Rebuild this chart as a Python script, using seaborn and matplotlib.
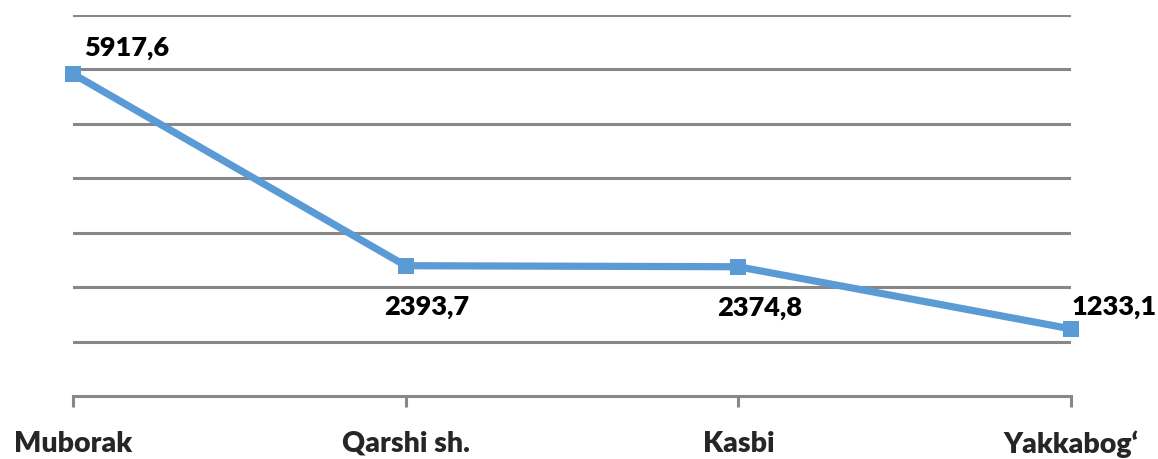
import pandas as pd
import numpy as np
from matplotlib import pyplot as plt
import seaborn as sns

districts = ["Muborak", "Qarshi sh.", "Kasbi", "Yakkabog‘"]
values = [5917.6, 2393.7, 2374.8, 1233.1]
value_labels = ["5917,6", "2393,7", "2374,8", "1233,1"]
# label offsets (points) relative to each marker
label_offsets = [(39, 19), (15, -30), (15, -30), (31, 16)]

sns.set_style("white")
plt.rcParams['font.family'] = ['Lato', 'DejaVu Sans']

df = pd.DataFrame({"district": districts, "value": values})

fig = plt.figure(figsize=(11.58, 4.59), dpi=100)
ax = fig.add_axes([73/1158, 1 - 396/459, (1071 - 73)/1158, (396 - 15)/459])

grid_col = "#878787"
for yv in range(1000, 8000, 1000):
    ax.axhline(yv, color=grid_col, lw=2.2, zorder=1)

sns.lineplot(data=df, x="district", y="value", ax=ax, color="#5B9BD5",
             lw=5.2, marker="s", markersize=11.5, markeredgewidth=0,
             sort=False, zorder=3, clip_on=False)

for i, (v, lab) in enumerate(zip(values, value_labels)):
    ax.annotate(lab, (i, v), xytext=label_offsets[i], textcoords="offset points",
                ha="center", va="center", fontsize=19.5, fontweight="heavy",
                color="black", annotation_clip=False)

ax.set_xlim(0, 3)
ax.set_ylim(0, 7000)
ax.set_yticks([])
ax.set_xlabel("")
ax.set_ylabel("")
for s in ["top", "right", "left"]:
    ax.spines[s].set_visible(False)
ax.spines["bottom"].set_color(grid_col)
ax.spines["bottom"].set_linewidth(2.2)
ax.tick_params(axis="x", bottom=True, length=8, width=2.2, color=grid_col,
               pad=17, labelsize=20.5)
for t in ax.get_xticklabels():
    t.set_fontweight("heavy")

fig.savefig("out.png", dpi=100)
